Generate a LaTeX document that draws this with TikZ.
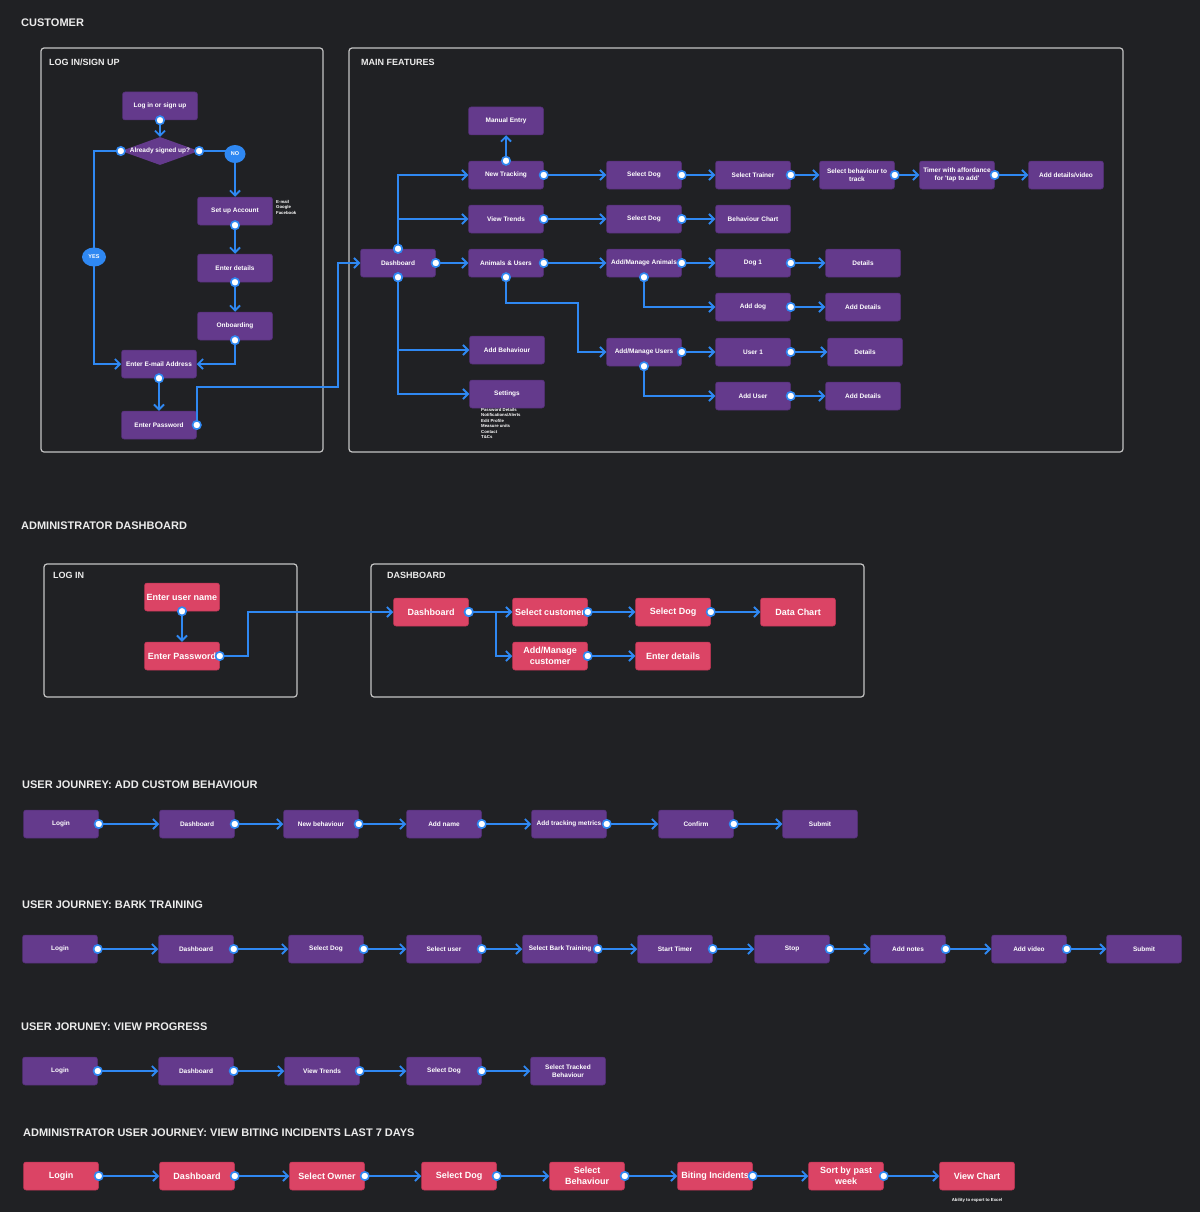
\documentclass[tikz,border=0pt]{standalone}
\usepackage{fontspec}
\setmainfont{Liberation Sans}
\usepackage{xcolor}
\usetikzlibrary{shapes.geometric,arrows.meta}

\definecolor{bgdark}{RGB}{32,33,36}
\definecolor{screenpurple}{RGB}{100,58,140}
\definecolor{screenedge}{RGB}{82,46,116}
\definecolor{adminred}{RGB}{219,68,101}
\definecolor{adminedge}{RGB}{190,52,84}
\definecolor{flowblue}{RGB}{47,136,242}
\definecolor{panelgray}{RGB}{196,196,196}
\definecolor{titlewhite}{RGB}{236,236,236}

\begin{document}
\begin{tikzpicture}[x=1pt,y=-1pt]
	\tikzstyle{screen} = [rectangle, rounded corners=2.5pt, fill=screenpurple, draw=screenedge, line width=0.5pt, minimum width=75pt, minimum height=28pt, inner sep=1pt, align=center, text=white, font=\bfseries\fontsize{6.5}{8}\selectfont]
	\tikzstyle{adminscreen} = [screen, fill=adminred, draw=adminedge, font=\bfseries\fontsize{9}{11}\selectfont]
	\tikzstyle{screentext} = [text=white, inner sep=0pt, font=\bfseries\fontsize{6.5}{8}\selectfont]
	\tikzstyle{decision} = [diamond, fill=screenpurple, minimum width=78pt, minimum height=28pt, inner sep=0pt]
	\tikzstyle{badge} = [ellipse, fill=flowblue, text=white, inner sep=0pt, font=\bfseries\fontsize{5.5}{6}\selectfont]
	\tikzstyle{flow} = [draw=flowblue, line width=1.8pt, shorten <=-5pt, {Circle[fill=white, length=10pt, width=10pt, line width=1.6pt]}-{Straight Barb[length=5pt, width=10pt]}]
	\tikzstyle{panel} = [draw=panelgray, line width=1.2pt, rounded corners=3pt]
	\tikzstyle{sectiontitle} = [anchor=west, inner sep=0pt, text=titlewhite, font=\bfseries\fontsize{11}{13}\selectfont]
	\tikzstyle{paneltitle} = [sectiontitle, font=\bfseries\fontsize{9}{11}\selectfont]
	\tikzstyle{smallnote} = [anchor=north west, inner sep=0pt, align=left, text=white, font=\bfseries\fontsize{4.3}{5.5}\selectfont]

	\useasboundingbox (0,0) rectangle (1200,1212);
	\fill[bgdark] (0,0) rectangle (1200,1212);

	% customer
	\node[sectiontitle] (custtitle) at (21,23) {CUSTOMER};
	\draw[panel] (41,48) rectangle (323,452);
	\node[paneltitle] (logintitle) at (49,62) {LOG IN/SIGN UP};
	\draw[panel] (349,48) rectangle (1123,452);
	\node[paneltitle] (maintitle) at (361,62) {MAIN FEATURES};

	\node[screen] (login) at (160,106) {Log in or sign up};
	\node[decision, label={[screentext]center:Already signed up?}] (signed) at (160,151) {};
	\node[screen] (setup) at (235,211) {Set up Account};
	\node[smallnote] (setupnote) at (276,200) {E-mail\\Google\\Facebook};
	\node[screen] (details) at (235,268) {Enter details};
	\node[screen] (onboard) at (235,326) {Onboarding};
	\node[screen] (email) at (159,364) {Enter E-mail Address};
	\node[screen] (password) at (159,425) {Enter Password};
	\coordinate (yesbend) at (94,257);
	\coordinate (loginexit) at (338,387);

	\node[screen] (dashboard) at (398,263) {Dashboard};
	\node[screen] (manual) at (506,121) {Manual Entry};
	\node[screen] (newtrack) at (506,175) {New Tracking};
	\node[screen] (viewtrends) at (506,219) {View Trends};
	\node[screen] (animals) at (506,263) {Animals \& Users};
	\node[screen] (addbehav) at (507,350) {Add Behaviour};
	\node[screen] (settings) at (507,394) {Settings};
	\node[smallnote] (settingsnote) at (481,408) {Password Details\\Notifications/Alerts\\Edit Profile\\Measure units\\Contact\\T\&Cs};
	\node[screen] (trackdog) at (644,175) {Select Dog};
	\node[screen] (trendsdog) at (644,219) {Select Dog};
	\node[screen] (manageanimals) at (644,263) {Add/Manage Animals};
	\node[screen] (manageusers) at (644,352) {Add/Manage Users};
	\node[screen] (trainer) at (753,175) {Select Trainer};
	\node[screen] (chart) at (753,219) {Behaviour Chart};
	\node[screen] (dogone) at (753,263) {Dog 1};
	\node[screen] (adddog) at (753,307) {Add dog};
	\node[screen] (userone) at (753,352) {User 1};
	\node[screen] (adduser) at (753,396) {Add User};
	\node[screen] (trackbehav) at (857,175) {Select behaviour to\\track};
	\node[screen] (timer) at (957,175) {Timer with affordance\\for \textquotesingle tap to add\textquotesingle};
	\node[screen] (video) at (1066,175) {Add details/video};
	\node[screen] (dogdetails) at (863,263) {Details};
	\node[screen] (adddogdetails) at (863,307) {Add Details};
	\node[screen] (userdetails) at (865,352) {Details};
	\node[screen] (adduserdetails) at (863,396) {Add Details};
	\coordinate (usersbend) at (578,303);

	\draw[flow] (login.south) -- (signed.north);
	\draw[flow] (signed.east) -| (setup.north);
	\draw[flow] (signed.west) -| (yesbend) |- (email.west);
	\draw[flow] (setup.south) -- (details.north);
	\draw[flow] (details.south) -- (onboard.north);
	\draw[flow] (onboard.south) |- (email.east);
	\draw[flow] (email.south) -- (password.north);
	\draw[flow] (password.east) |- (loginexit) |- (dashboard.west);
	\node[badge, minimum width=21pt, minimum height=18pt] (no) at (235,154) {NO};
	\node[badge, minimum width=24pt, minimum height=19pt] (yes) at (yesbend) {YES};

	\draw[flow] (dashboard.north) |- (newtrack.west);
	\draw[flow] (dashboard.north) |- (viewtrends.west);
	\draw[flow] (dashboard.east) -- (animals.west);
	\draw[flow] (dashboard.south) |- (addbehav.west);
	\draw[flow] (dashboard.south) |- (settings.west);
	\draw[flow] (newtrack.north) -- (manual.south);
	\draw[flow] (newtrack.east) -- (trackdog.west);
	\draw[flow] (trackdog.east) -- (trainer.west);
	\draw[flow] (trainer.east) -- (trackbehav.west);
	\draw[flow] (trackbehav.east) -- (timer.west);
	\draw[flow] (timer.east) -- (video.west);
	\draw[flow] (viewtrends.east) -- (trendsdog.west);
	\draw[flow] (trendsdog.east) -- (chart.west);
	\draw[flow] (animals.east) -- (manageanimals.west);
	\draw[flow] (animals.south) |- (usersbend) |- (manageusers.west);
	\draw[flow] (manageanimals.east) -- (dogone.west);
	\draw[flow] (dogone.east) -- (dogdetails.west);
	\draw[flow] (manageanimals.south) |- (adddog.west);
	\draw[flow] (adddog.east) -- (adddogdetails.west);
	\draw[flow] (manageusers.east) -- (userone.west);
	\draw[flow] (userone.east) -- (userdetails.west);
	\draw[flow] (manageusers.south) |- (adduser.west);
	\draw[flow] (adduser.east) -- (adduserdetails.west);

	% administrator dashboard
	\node[sectiontitle] (admintitle) at (21,526) {ADMINISTRATOR DASHBOARD};
	\draw[panel] (44,564) rectangle (297,697);
	\node[paneltitle] (adminlogintitle) at (53,575) {LOG IN};
	\draw[panel] (371,564) rectangle (864,697);
	\node[paneltitle] (admindashtitle) at (387,575) {DASHBOARD};

	\node[adminscreen] (username) at (182,597) {Enter user name};
	\node[adminscreen] (adminpw) at (182,656) {Enter Password};
	\node[adminscreen] (admindash) at (431,612) {Dashboard};
	\node[adminscreen] (selcustomer) at (550,612) {Select customer};
	\node[adminscreen] (managecustomer) at (550,656) {Add/Manage\\customer};
	\node[adminscreen] (admindog) at (673,612) {Select Dog};
	\node[adminscreen] (customerdetails) at (673,656) {Enter details};
	\node[adminscreen] (datachart) at (798,612) {Data Chart};
	\coordinate (adminbend) at (248,612);
	\coordinate (customerbend) at (496,612);

	\draw[flow] (username.south) -- (adminpw.north);
	\draw[flow] (adminpw.east) -| (adminbend) -- (admindash.west);
	\draw[flow] (admindash.east) -- (selcustomer.west);
	\draw[flow] (admindash.east) -- (customerbend) |- (managecustomer.west);
	\draw[flow] (selcustomer.east) -- (admindog.west);
	\draw[flow] (admindog.east) -- (datachart.west);
	\draw[flow] (managecustomer.east) -- (customerdetails.west);

	% user journey: add custom behaviour
	\node[sectiontitle] (cbtitle) at (22,785) {USER JOUNREY: ADD CUSTOM BEHAVIOUR};
	\node[screen] (cblogin) at (61,824) {Login};
	\node[screen] (cbdash) at (197,824) {Dashboard};
	\node[screen] (cbnew) at (321,824) {New behaviour};
	\node[screen] (cbname) at (444,824) {Add name};
	\node[screen] (cbmetrics) at (569,824) {Add tracking metrics};
	\node[screen] (cbconfirm) at (696,824) {Confirm};
	\node[screen] (cbsubmit) at (820,824) {Submit};
	\draw[flow] (cblogin.east) -- (cbdash.west);
	\draw[flow] (cbdash.east) -- (cbnew.west);
	\draw[flow] (cbnew.east) -- (cbname.west);
	\draw[flow] (cbname.east) -- (cbmetrics.west);
	\draw[flow] (cbmetrics.east) -- (cbconfirm.west);
	\draw[flow] (cbconfirm.east) -- (cbsubmit.west);

	% user journey: bark training
	\node[sectiontitle] (bttitle) at (22,905) {USER JOURNEY: BARK TRAINING};
	\node[screen] (btlogin) at (60,949) {Login};
	\node[screen] (btdash) at (196,949) {Dashboard};
	\node[screen] (btdog) at (326,949) {Select Dog};
	\node[screen] (btuser) at (444,949) {Select user};
	\node[screen] (btbark) at (560,949) {Select Bark Training};
	\node[screen] (bttimer) at (675,949) {Start Timer};
	\node[screen] (btstop) at (792,949) {Stop};
	\node[screen] (btnotes) at (908,949) {Add notes};
	\node[screen] (btvideo) at (1029,949) {Add video};
	\node[screen] (btsubmit) at (1144,949) {Submit};
	\draw[flow] (btlogin.east) -- (btdash.west);
	\draw[flow] (btdash.east) -- (btdog.west);
	\draw[flow] (btdog.east) -- (btuser.west);
	\draw[flow] (btuser.east) -- (btbark.west);
	\draw[flow] (btbark.east) -- (bttimer.west);
	\draw[flow] (bttimer.east) -- (btstop.west);
	\draw[flow] (btstop.east) -- (btnotes.west);
	\draw[flow] (btnotes.east) -- (btvideo.west);
	\draw[flow] (btvideo.east) -- (btsubmit.west);

	% user journey: view progress
	\node[sectiontitle] (vptitle) at (21,1027) {USER JORUNEY: VIEW PROGRESS};
	\node[screen] (vplogin) at (60,1071) {Login};
	\node[screen] (vpdash) at (196,1071) {Dashboard};
	\node[screen] (vptrends) at (322,1071) {View Trends};
	\node[screen] (vpdog) at (444,1071) {Select Dog};
	\node[screen] (vpbehav) at (568,1071) {Select Tracked\\Behaviour};
	\draw[flow] (vplogin.east) -- (vpdash.west);
	\draw[flow] (vpdash.east) -- (vptrends.west);
	\draw[flow] (vptrends.east) -- (vpdog.west);
	\draw[flow] (vpdog.east) -- (vpbehav.west);

	% administrator user journey: biting incidents
	\node[sectiontitle] (bititle) at (23,1133) {ADMINISTRATOR USER JOURNEY: VIEW BITING INCIDENTS LAST 7 DAYS};
	\node[adminscreen] (bilogin) at (61,1176) {Login};
	\node[adminscreen] (bidash) at (197,1176) {Dashboard};
	\node[adminscreen] (biowner) at (327,1176) {Select Owner};
	\node[adminscreen] (bidog) at (459,1176) {Select Dog};
	\node[adminscreen] (bibehav) at (587,1176) {Select\\Behaviour};
	\node[adminscreen] (biincidents) at (715,1176) {Biting Incidents};
	\node[adminscreen] (biweek) at (846,1176) {Sort by past\\week};
	\node[adminscreen] (bichart) at (977,1176) {View Chart};
	\node[smallnote, anchor=center] (exportnote) at (977,1200) {Ability to export to Excel};
	\draw[flow] (bilogin.east) -- (bidash.west);
	\draw[flow] (bidash.east) -- (biowner.west);
	\draw[flow] (biowner.east) -- (bidog.west);
	\draw[flow] (bidog.east) -- (bibehav.west);
	\draw[flow] (bibehav.east) -- (biincidents.west);
	\draw[flow] (biincidents.east) -- (biweek.west);
	\draw[flow] (biweek.east) -- (bichart.west);
\end{tikzpicture}
\end{document}
